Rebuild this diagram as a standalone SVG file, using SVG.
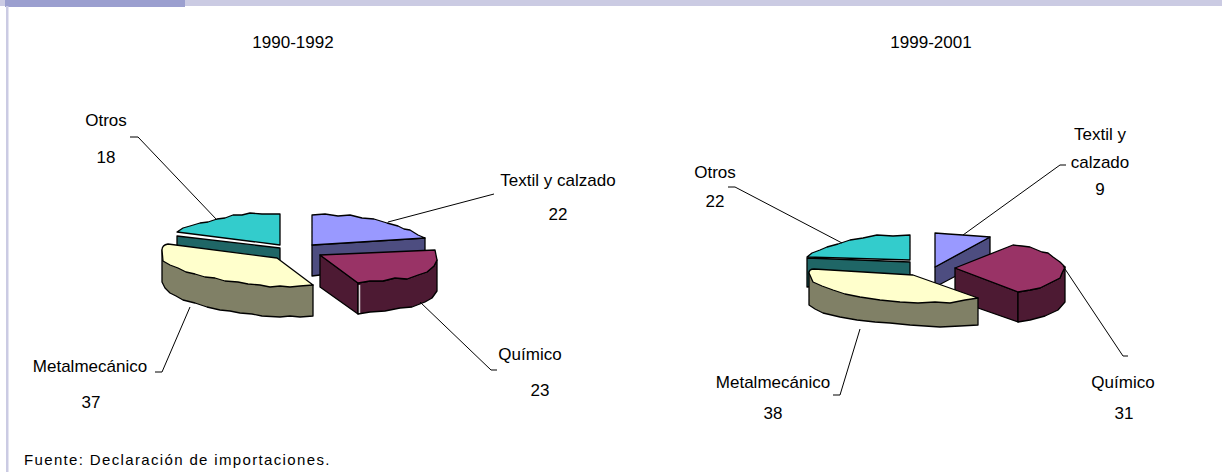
<svg xmlns="http://www.w3.org/2000/svg" width="1222" height="472" viewBox="0 0 1222 472">
<style>
.t{font-family:"Liberation Sans",Arial,sans-serif;font-size:17px;fill:#000}
.f{font-family:"Liberation Sans",Arial,sans-serif;font-size:15px;fill:#000;letter-spacing:1.35px}
.s{stroke:#000;stroke-width:1.3;stroke-linejoin:round}
.ld{fill:none;stroke:#000;stroke-width:1}
.cy{fill:#33CCCC}.tl{fill:#1F6666}
.lv{fill:#9999FF}.sl{fill:#4D4D80}
.mr{fill:#993366}.md{fill:#4D1A33}
.yl{fill:#FFFFCC}.ol{fill:#808066}
</style>
<rect x="0" y="0" width="1222" height="472" fill="#fff"/>
<g id="frame">
<rect x="0" y="0" width="1222" height="6" fill="#CBCBE3"/>
<rect x="5" y="0" width="180" height="7" fill="#9B9FCF"/>
<rect x="6" y="6" width="2.5" height="466" fill="#CBCBE3"/>
</g>
<g id="titles">
<text class="t" x="293" y="48" text-anchor="middle">1990-1992</text>
<text class="t" x="931" y="48" text-anchor="middle">1999-2001</text>
</g>
<g id="pie-left">
<g id="l-textil">
<path class="s sl" d="M312,245 L425,238 L425,252 L360,270 L312,276 Z"/>
<path class="s lv" d="M312,215 L325,214 L338,216 L350,215 L362,218 L374,219 L387,223 L398,226 L404,229 L410,230 L418,235 L425,238 L312,245 Z"/>
</g>
<g id="l-quimico">
<path class="s md" d="M320,255 L358,283 L358,314 L320,287 Z"/>
<path class="s md" d="M358,283 L370,281 L383,281 L395,278 L407,279 L418,275 L427,272 L434,266 L437,260 L437,291 L432,298 L425,302 L412,307 L400,308 L385,311 L370,312 L358,314 Z"/>
<path class="s mr" d="M320,255 L435,250 L437,260 L434,266 L427,272 L418,275 L407,279 L395,278 L383,281 L370,281 L358,283 Z"/>
<line x1="359.5" y1="285" x2="359.5" y2="313" stroke="#d8d8d8" stroke-width="1.5"/>
</g>
<g id="l-otros">
<path class="s tl" d="M177,236 L280,248 L280,262 L177,250 Z"/>
<path class="s cy" d="M280,214 L280,245 L177,232 L183,228 L190,226 L200,223 L208,222 L217,219 L225,218 L233,215 L242,215 L250,213 L262,214 Z"/>
</g>
<g id="l-metal">
<path class="s ol" d="M162,250 L162,282 L165,288 L170,293 L176,296 L183,300 L195,303 L207,307 L220,310 L230,311 L240,313 L252,314 L262,316 L280,317 L290,316 L300,317 L313,316 L313,285 L162,260 Z"/>
<path class="s yl" d="M162,250 Q162,245 168,244 L277,258 L313,285 L300,286 L290,287 L280,286 L270,287 L260,285 L248,284 L238,282 L225,281 L215,278 L205,277 L195,274 L186,272 L178,268 L170,265 L163,261 Z"/>
</g>
</g>
<g id="pie-right">
<g id="r-otros">
<path class="s tl" d="M807,258 L910,262 L910,276 L807,287 Z"/>
<path class="s cy" d="M910,235 L910,260 L807,257 L812,253 L820,250 L827,247 L838,244 L850,240 L863,238 L877,235 L893,236 Z"/>
</g>
<g id="r-textil">
<path class="s sl" d="M935,267 L990,237 L990,258 L935,287 Z"/>
<path class="s lv" d="M935,233 L948,234 L963,235 L977,236 L990,237 L935,267 Z"/>
</g>
<g id="r-quimico">
<path class="s md" d="M955,268 L1018,292 L1018,322 L955,300 Z"/>
<path class="s md" d="M1018,292 L1030,290 L1040,288 L1050,283 L1060,278 L1062,273 L1065,267 L1065,302 L1058,310 L1045,316 L1030,320 L1018,322 Z"/>
<path class="s mr" d="M955,268 L1013,245 L1022,246 L1030,247 L1042,252 L1048,253 L1053,257 L1060,262 L1065,267 L1062,273 L1060,278 L1050,283 L1040,288 L1030,290 L1018,292 Z"/>
</g>
<g id="r-metal">
<path class="s ol" d="M809,272 L809,305 L815,309 L823,313 L840,317 L857,320 L875,322 L890,323 L910,325 L925,326 L940,327 L960,326 L978,325 L978,298 Z"/>
<path class="s yl" d="M809,273 Q809,269 814,269 L913,275 L978,298 L965,300 L950,303 L935,302 L918,303 L900,302 L880,300 L860,297 L845,294 L833,290 L822,286 L813,282 Z"/>
</g>
</g>
<g id="connectors">
<polyline class="ld" points="130,137 138,137 217,220"/>
<polyline class="ld" points="388,222 494,194"/>
<polyline class="ld" points="420,302 491,370 497,370"/>
<polyline class="ld" points="190,307 162,372 155,372"/>
<polyline class="ld" points="728,187 735,187 842,243"/>
<polyline class="ld" points="963,235 1060,165 1066,165"/>
<polyline class="ld" points="1063,266 1123,356 1128,356"/>
<polyline class="ld" points="860,329 840,395 833,395"/>
</g>
<g id="labels">
<text class="t" x="106" y="126" text-anchor="middle">Otros</text>
<text class="t" x="106" y="163" text-anchor="middle">18</text>
<text class="t" x="558" y="186" text-anchor="middle">Textil y calzado</text>
<text class="t" x="558" y="220" text-anchor="middle">22</text>
<text class="t" x="530" y="360" text-anchor="middle">Químico</text>
<text class="t" x="540" y="396" text-anchor="middle">23</text>
<text class="t" x="90" y="372" text-anchor="middle">Metalmecánico</text>
<text class="t" x="91" y="408" text-anchor="middle">37</text>
<text class="t" x="715" y="178" text-anchor="middle">Otros</text>
<text class="t" x="715" y="207" text-anchor="middle">22</text>
<text class="t" x="1100" y="140" text-anchor="middle">Textil y</text>
<text class="t" x="1100" y="168" text-anchor="middle">calzado</text>
<text class="t" x="1100" y="195" text-anchor="middle">9</text>
<text class="t" x="773" y="388" text-anchor="middle">Metalmecánico</text>
<text class="t" x="773" y="419" text-anchor="middle">38</text>
<text class="t" x="1123" y="388" text-anchor="middle">Químico</text>
<text class="t" x="1124" y="419" text-anchor="middle">31</text>
</g>
<text class="f" x="24" y="465">Fuente: Declaración de importaciones.</text>
</svg>
